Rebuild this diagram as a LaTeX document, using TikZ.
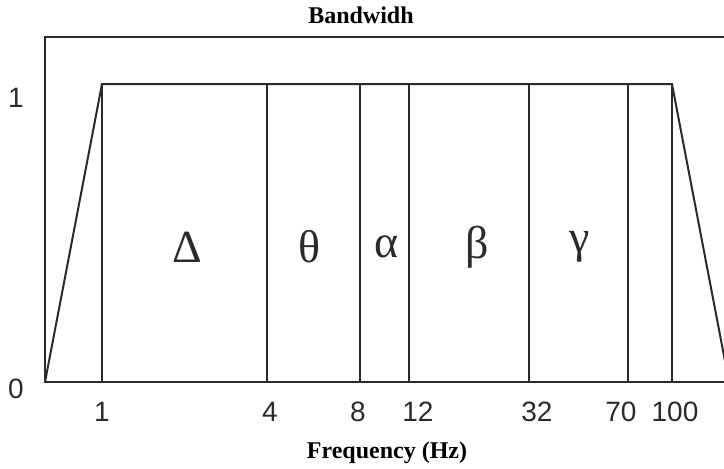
\documentclass[tikz,border=0pt]{standalone}
\usepackage{fontspec}
\setmainfont{Liberation Serif}
\newfontfamily\axisfont{Liberation Sans}
\usetikzlibrary{calc}
\definecolor{ink}{HTML}{2a2a2a}

\begin{document}
\begin{tikzpicture}[x=1pt, y=-1pt,
  edge/.style={draw=ink, line width=2pt, line join=miter},
  tick/.style={font=\axisfont\fontsize{28}{28}\selectfont, text=ink, inner sep=0pt},
  band/.style={font=\fontsize{46}{46}\selectfont, text=ink, inner sep=0pt},
  ttl/.style={font=\bfseries\fontsize{24}{24}\selectfont, inner sep=0pt}]
  \useasboundingbox (0,0) rectangle (724,469);
  % corners of the pass band
  \coordinate (lo) at (45,382);
  \coordinate (ul) at (102,84);
  \coordinate (ur) at (672,84);
  \coordinate (hi) at (729,382);
  \begin{scope}
    \clip (0,0) rectangle (724,469);
    % frame
    \draw[edge] (724,37) -- (45,37) -- (lo) -- (724,382);
    % pass band
    \draw[edge] (lo) -- (ul) -- (ur) -- (hi);
    \foreach \x in {102,267,360,409,529,628,672}
      \draw[edge] (\x,84) -- (\x,382);
  \end{scope}
  % titles
  \node[ttl] (title) at (361,15) {Bandwidh};
  \node[ttl] (xlab) at (387,453) {Frequency (Hz)};
  % level labels
  \node[tick] (one) at (16,98) {1};
  \node[tick] (zero) at (16,389) {0};
  % frequency labels
  \foreach \x/\f in {102/1, 270/4, 358/8, 418/12, 537/32, 621/70, 675/100}
    \node[tick] (f\f) at (\x,412) {\f};
  % bands
  \foreach \x/\g/\n in {187/Δ/delta, 310/θ/theta, 387/α/alpha, 477/β/beta, 580/γ/gamma}
    \node[band] (\n) at (\x,247) {\g};
\end{tikzpicture}
\end{document}
